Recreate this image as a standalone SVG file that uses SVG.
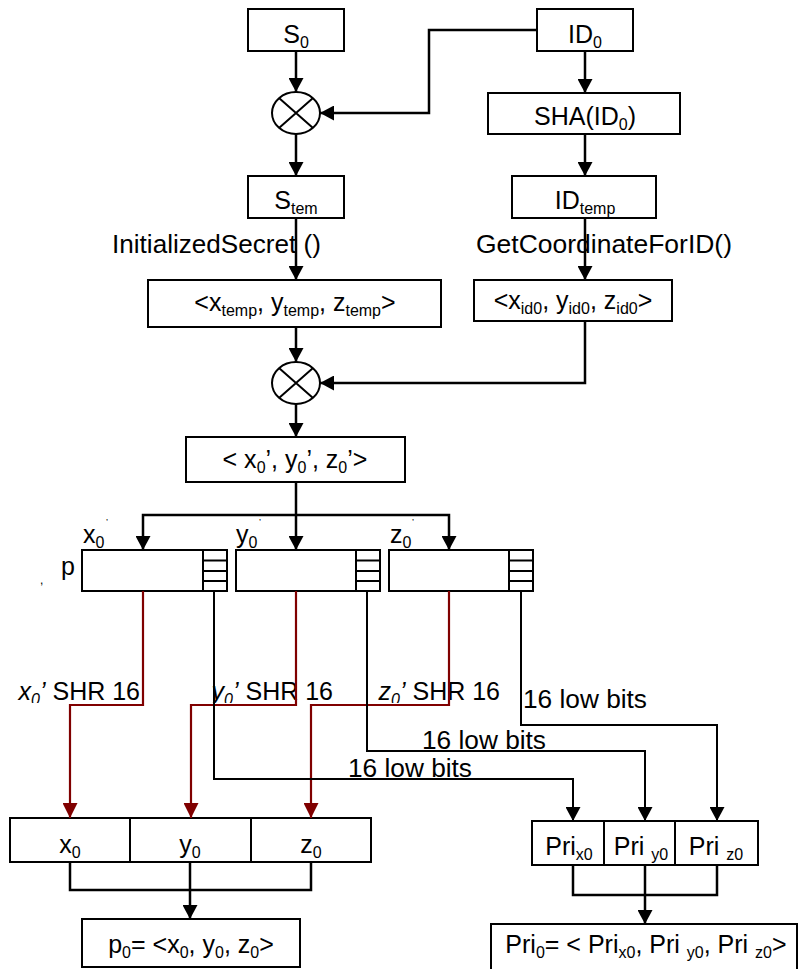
<svg xmlns="http://www.w3.org/2000/svg" width="799" height="969" viewBox="0 0 799 969">
<style>
text{font-family:"Liberation Sans",Arial,sans-serif;font-size:25px;fill:#000}
.c{text-anchor:middle}
.e{text-anchor:end}
.s{font-size:16px}
.i{font-style:italic}
.box{fill:#fff;stroke:#000;stroke-width:2}
.ln{fill:none;stroke:#000;stroke-width:2.5}
.th{fill:none;stroke:#000;stroke-width:2}
.rd{fill:none;stroke:#800000;stroke-width:2.2}
.tiny{font-size:9px}
</style>
<defs>
<marker id="ah" markerUnits="userSpaceOnUse" markerWidth="15" markerHeight="15" refX="14" refY="7.5" orient="auto"><path d="M0,0 L14,7.5 L0,15 z" fill="#000"/></marker>
<marker id="ahr" markerUnits="userSpaceOnUse" markerWidth="16" markerHeight="15" refX="15" refY="7.5" orient="auto"><path d="M0,0 L15,7.5 L0,15 z" fill="#800000"/></marker>
<clipPath id="cl"><rect x="0" y="0" width="799" height="703"/></clipPath>
</defs>

<g id="S0"><rect class="box" x="248" y="9" width="96" height="42"/><text class="c" x="296" y="43">S<tspan class="s" dy="5">0</tspan></text></g>
<g id="ID0"><rect class="box" x="537" y="9" width="96" height="42"/><text class="c" x="585" y="43">ID<tspan class="s" dy="5">0</tspan></text></g>
<g id="mul1"><ellipse cx="296" cy="113" rx="24" ry="21" fill="#fff" stroke="#000" stroke-width="2"/><path class="th" d="M279,98 L313,128 M313,98 L279,128"/></g>
<g id="SHA"><rect class="box" x="488" y="93" width="192" height="41"/><text class="c" x="585" y="125">SHA(ID<tspan class="s" dy="5">0</tspan><tspan dy="-5">)</tspan></text></g>
<g id="Stem"><rect class="box" x="248" y="176" width="96" height="42"/><text class="c" x="296" y="209">S<tspan class="s" dy="5">tem</tspan></text></g>
<g id="IDtemp"><rect class="box" x="512" y="176" width="144" height="42"/><text class="c" x="585" y="209">ID<tspan class="s" dy="5">temp</tspan></text></g>
<g id="lbl1"><text x="112" y="253" textLength="209" lengthAdjust="spacingAndGlyphs">InitializedSecret ()</text></g>
<g id="lbl2"><text x="476" y="253" textLength="256" lengthAdjust="spacingAndGlyphs">GetCoordinateForID()</text></g>
<g id="xtemp"><rect class="box" x="148" y="280" width="293" height="47"/><text class="c" x="295" y="311">&lt;x<tspan class="s" dy="5">temp</tspan><tspan dy="-5">, y</tspan><tspan class="s" dy="5">temp</tspan><tspan dy="-5">, z</tspan><tspan class="s" dy="5">temp</tspan><tspan dy="-5">&gt;</tspan></text></g>
<g id="xid0"><rect class="box" x="474" y="280" width="198" height="41"/><text class="c" x="573" y="309">&lt;x<tspan class="s" dy="5">id0</tspan><tspan dy="-5">, y</tspan><tspan class="s" dy="5">id0</tspan><tspan dy="-5">, z</tspan><tspan class="s" dy="5">id0</tspan><tspan dy="-5">&gt;</tspan></text></g>
<g id="mul2"><ellipse cx="296" cy="383" rx="24" ry="21" fill="#fff" stroke="#000" stroke-width="2"/><path class="th" d="M279,368 L313,398 M313,368 L279,398"/></g>
<g id="xyz0p"><rect class="box" x="186" y="437" width="219" height="45"/><text class="c" x="295" y="468">&lt; x<tspan class="s" dy="5">0</tspan><tspan dy="-5">’, y</tspan><tspan class="s" dy="5">0</tspan><tspan dy="-5">’, z</tspan><tspan class="s" dy="5">0</tspan><tspan dy="-5">’&gt;</tspan></text></g>

<g id="regx"><rect class="box" x="82" y="550" width="145" height="41"/><path class="th" d="M203,550 V591 M203,560.5 H227 M203,571 H227 M203,581 H227"/><text x="83" y="543">x<tspan class="s" dy="5">0</tspan></text><text class="tiny" x="106" y="525">’</text></g>
<g id="regy"><rect class="box" x="236" y="550" width="144" height="41"/><path class="th" d="M356,550 V591 M356,560.5 H380 M356,571 H380 M356,581 H380"/><text x="236" y="543">y<tspan class="s" dy="5">0</tspan></text><text class="tiny" x="259" y="525">’</text></g>
<g id="regz"><rect class="box" x="389" y="550" width="144" height="41"/><path class="th" d="M509,550 V591 M509,560.5 H533 M509,571 H533 M509,581 H533"/><text x="390" y="543">z<tspan class="s" dy="5">0</tspan></text><text class="tiny" x="412" y="525">’</text></g>
<g id="plbl"><text style="font-size:12px" x="40" y="584">,</text><text x="61" y="575">p</text></g>

<g id="shr" clip-path="url(#cl)">
<text class="e" x="140" y="700"><tspan class="i">x</tspan><tspan class="s i" dy="5">0</tspan><tspan class="i" dy="-5">’</tspan> SHR 16</text>
<text class="e" x="333" y="700"><tspan class="i">y</tspan><tspan class="s i" dy="5">0</tspan><tspan class="i" dy="-5">’</tspan> SHR 16</text>
<text class="e" x="500" y="700"><tspan class="i">z</tspan><tspan class="s i" dy="5">0</tspan><tspan class="i" dy="-5">’</tspan> SHR 16</text>
</g>
<g id="low"><text x="523" y="708" textLength="124" lengthAdjust="spacingAndGlyphs">16 low bits</text><text x="422" y="749" textLength="124" lengthAdjust="spacingAndGlyphs">16 low bits</text><text x="348" y="777" textLength="124" lengthAdjust="spacingAndGlyphs">16 low bits</text></g>

<g id="xyz0"><rect class="box" x="10" y="818" width="361" height="44"/><path class="th" d="M130,818 V862 M251,818 V862"/><text class="c" x="70" y="853">x<tspan class="s" dy="5">0</tspan></text><text class="c" x="190" y="853">y<tspan class="s" dy="5">0</tspan></text><text class="c" x="311" y="853">z<tspan class="s" dy="5">0</tspan></text></g>
<g id="p0"><rect class="box" x="82" y="919" width="218" height="48"/><text class="c" x="191" y="953">p<tspan class="s" dy="5">0</tspan><tspan dy="-5">= &lt;x</tspan><tspan class="s" dy="5">0</tspan><tspan dy="-5">, y</tspan><tspan class="s" dy="5">0</tspan><tspan dy="-5">, z</tspan><tspan class="s" dy="5">0</tspan><tspan dy="-5">&gt;</tspan></text></g>
<g id="pri"><rect class="box" x="532" y="821" width="226" height="44"/><path class="th" d="M604,821 V865 M675,821 V865"/><text class="c" x="569" y="855">Pri<tspan class="s" dy="5">x0</tspan></text><text class="c" x="641" y="855">Pri <tspan class="s" dy="5">y0</tspan></text><text class="c" x="716" y="855">Pri <tspan class="s" dy="5">z0</tspan></text></g>
<g id="pri0"><rect class="box" x="491" y="924" width="306" height="60"/><text class="c" x="646" y="953">Pri<tspan class="s" dy="5">0</tspan><tspan dy="-5">= &lt; Pri</tspan><tspan class="s" dy="5">x0</tspan><tspan dy="-5">, Pri </tspan><tspan class="s" dy="5">y0</tspan><tspan dy="-5">, Pri </tspan><tspan class="s" dy="5">z0</tspan><tspan dy="-5">&gt;</tspan></text></g>

<g id="connectors">
<path class="ln" d="M296,51 V92" marker-end="url(#ah)"/>
<path class="ln" d="M537,30 H429 V113 H320" marker-end="url(#ah)"/>
<path class="ln" d="M296,134 V176" marker-end="url(#ah)"/>
<path class="ln" d="M585,51 V93" marker-end="url(#ah)"/>
<path class="ln" d="M585,134 V176" marker-end="url(#ah)"/>
<path class="ln" d="M296,218 V280" marker-end="url(#ah)"/>
<path class="ln" d="M585,218 V280" marker-end="url(#ah)"/>
<path class="ln" d="M296,327 V362" marker-end="url(#ah)"/>
<path class="ln" d="M585,321 V383 H320" marker-end="url(#ah)"/>
<path class="ln" d="M296,404 V437" marker-end="url(#ah)"/>
<path class="ln" d="M296,482 V550" marker-end="url(#ah)"/>
<path class="ln" d="M296,515 H143 V550" marker-end="url(#ah)"/>
<path class="ln" d="M296,515 H449 V550" marker-end="url(#ah)"/>
<path class="rd" d="M143,591 V705 H70 V818" marker-end="url(#ahr)"/>
<path class="rd" d="M296,591 V705 H191 V818" marker-end="url(#ahr)"/>
<path class="rd" d="M449,591 V705 H311 V818" marker-end="url(#ahr)"/>
<path class="th" d="M214,591 V779 H573 V821" marker-end="url(#ah)"/>
<path class="th" d="M367,591 V751 H645 V821" marker-end="url(#ah)"/>
<path class="th" d="M521,591 V725 H717 V821" marker-end="url(#ah)"/>
<path class="ln" d="M70,862 V890 H311 V862"/>
<path class="ln" d="M190,862 V919" marker-end="url(#ah)"/>
<path class="ln" d="M573,865 V895 H717 V865"/>
<path class="ln" d="M645,865 V924" marker-end="url(#ah)"/>
</g>
</svg>
